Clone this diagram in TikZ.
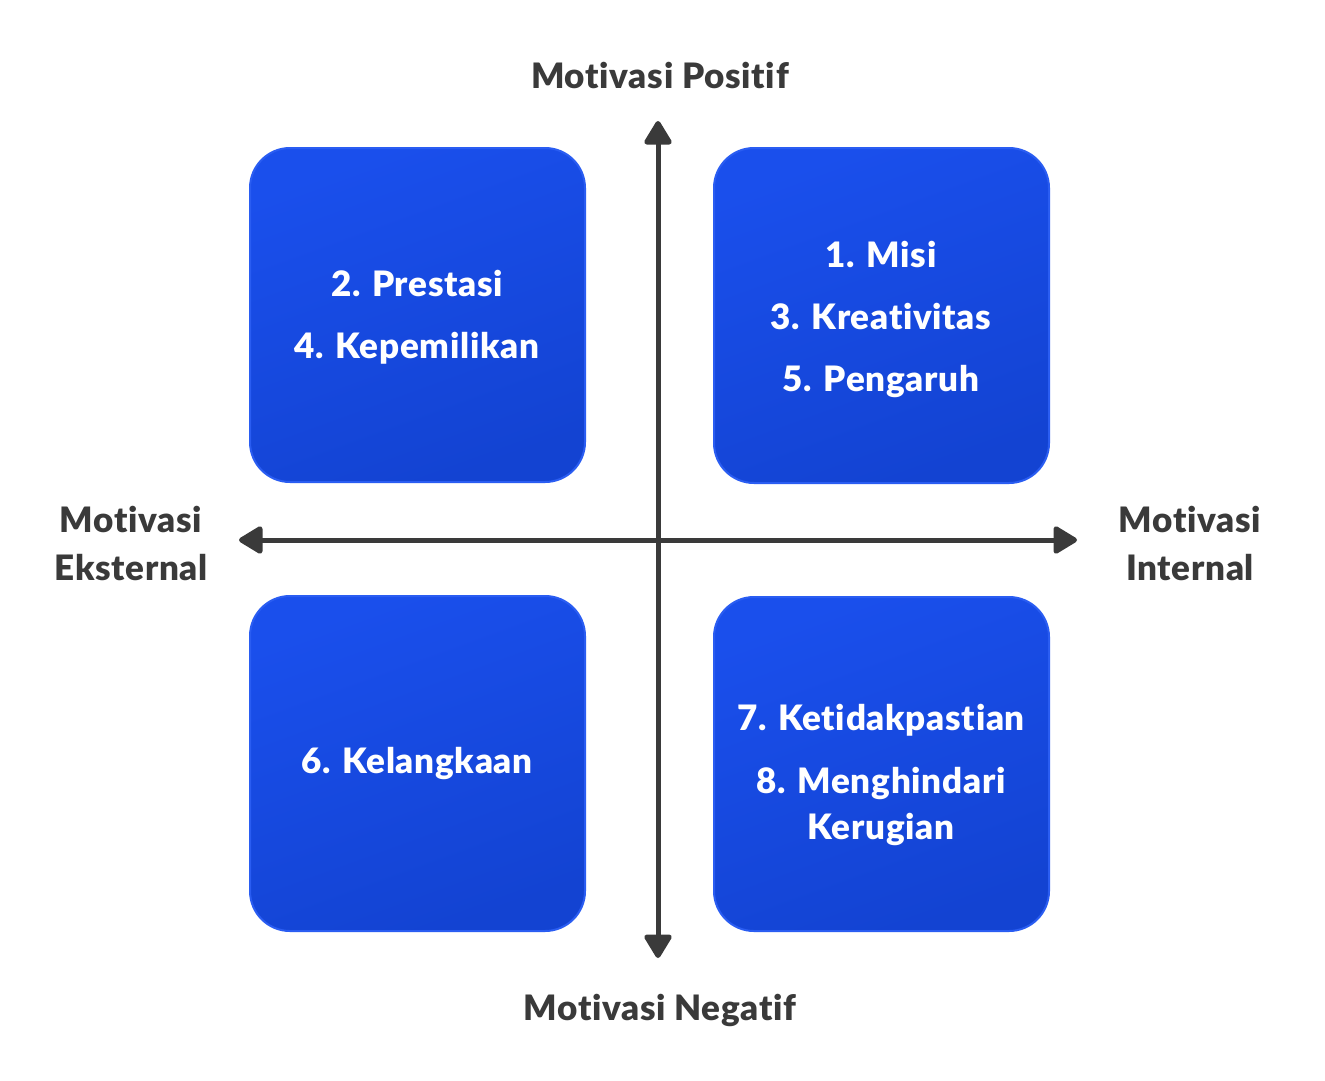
\documentclass[tikz,border=0pt]{standalone}
\usepackage{fontspec}
\setmainfont[Ligatures=NoCommon, LetterSpace=2, BoldFont={Lato Black}]{Lato}
\usetikzlibrary{arrows.meta}
\definecolor{boxtop}{HTML}{1A4FEC}
\definecolor{boxbot}{HTML}{1343D2}
\definecolor{boxedge}{HTML}{2A5DF2}
\definecolor{axis}{HTML}{3A3A3A}
\begin{document}
\begin{tikzpicture}[x=1pt,y=-1pt,
  quad/.style={rounded corners=40pt, draw=boxedge, line width=2pt,
    top color=boxtop, bottom color=boxbot, shading angle=20},
  qtext/.style={text=white, font=\fontsize{35}{62}\bfseries\selectfont, align=center},
  lab/.style={text=axis, font=\fontsize{35}{48}\bfseries\selectfont, align=center},
  axisline/.style={draw=axis, line width=5pt,
    -{Triangle[length=26pt,width=30pt,round]}}]
\useasboundingbox (0,0) rectangle (1325,1080);
\fill[white] (0,0) rectangle (1325,1080);
% boxes
\path[quad] (250,148) rectangle (585,482);
\path[quad] (714,148) rectangle (1049,483);
\path[quad] (250,596) rectangle (585,931);
\path[quad] (714,597) rectangle (1049,931);
% axes
\coordinate (c) at (658,540);
\coordinate (up) at (658,121);
\coordinate (down) at (658,958);
\coordinate (left) at (239,540);
\coordinate (right) at (1077,540);
\draw[axisline] (c) -- (up);
\draw[axisline] (c) -- (down);
\draw[axisline] (c) -- (left);
\draw[axisline] (c) -- (right);
% labels
\node[lab] (lpos) at (660,75) {Motivasi Positif};
\node[lab] (lneg) at (660,1010) {Motivasi Negatif};
\node[lab] (lext) at (131,543) {Motivasi\\Eksternal};
\node[lab] (lint) at (1190,543) {Motivasi\\Internal};
% texts
\node[qtext] (t1) at (417,317) {2. Prestasi\\4. Kepemilikan};
\node[qtext] (t2) at (881,319) {1. Misi\\3. Kreativitas\\5. Pengaruh};
\node[qtext] (t3) at (417,764) {6. Kelangkaan};
\node[qtext, font=\fontsize{35}{46}\bfseries\selectfont] (t4) at (881,775) {7. Ketidakpastian\\[17pt]8. Menghindari\\Kerugian};
\end{tikzpicture}
\end{document}
